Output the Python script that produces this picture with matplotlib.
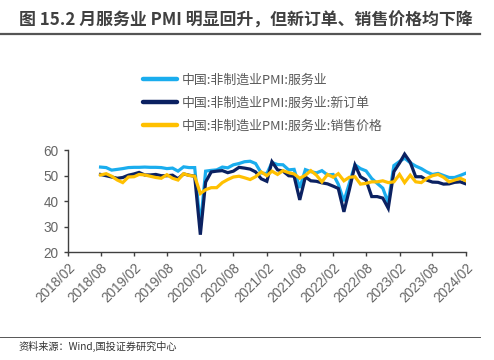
import matplotlib
matplotlib.use('Agg')
import matplotlib.pyplot as plt
import matplotlib.dates as mdates
from matplotlib.lines import Line2D
import pandas as pd

# monthly, 2018/08 - 2024/02
months = pd.date_range('2018-08-01', '2024-02-01', freq='MS')

services = [53.4, 53.2, 52.2, 52.5, 52.8,
            53.2, 53.3, 53.3, 53.4, 53.3, 53.3, 53.2, 52.8, 53.0, 51.8, 53.5, 53.2,
            53.2, 30.1, 51.8, 52.1, 52.3, 53.4, 53.1, 54.3, 54.8, 55.5, 55.7, 54.8,
            51.1, 50.8, 55.2, 54.4, 54.3, 52.3, 52.5, 45.2, 52.4, 51.6, 51.1, 52.0,
            50.3, 50.5, 46.7, 40.0, 47.1, 54.3, 52.8, 51.9, 48.9, 47.0, 45.1, 39.4,
            54.0, 55.6, 56.9, 55.1, 53.8, 52.8, 51.5, 50.5, 50.9, 50.1, 49.3, 49.3,
            50.1, 51.0]

new_orders = [50.5, 50.0, 49.5, 49.0, 49.3,
              50.2, 50.7, 51.3, 50.3, 50.3, 50.5, 50.0, 50.0, 50.2, 48.8, 50.7, 50.2,
              49.8, 26.8, 47.5, 51.5, 51.8, 52.0, 51.2, 51.8, 53.3, 53.0, 52.6, 51.5,
              48.8, 47.8, 55.5, 52.3, 51.8, 50.0, 49.8, 40.5, 49.5, 48.0, 47.8, 47.2,
              46.8, 45.9, 45.0, 35.8, 44.5, 54.2, 49.6, 48.3, 41.8, 41.8, 41.2, 37.2,
              51.6, 55.0, 58.5, 55.3, 49.6, 49.6, 48.3, 47.5, 47.4, 46.7, 46.8, 47.4,
              47.6, 46.8]

sales_price = [50.3, 50.8, 49.8, 48.3, 47.3,
               49.5, 49.6, 50.5, 50.3, 49.8, 49.3, 49.0, 50.4, 49.0, 48.3, 50.8, 50.1,
               49.8, 43.0, 44.5, 45.3, 45.3, 47.3, 48.5, 49.5, 49.8, 49.2, 48.5, 49.6,
               51.5, 50.0, 51.8, 50.5, 52.0, 51.2, 50.7, 49.0, 50.2, 52.0, 50.2, 47.6,
               50.5, 49.4, 50.8, 48.0, 49.4, 49.6, 46.7, 47.0, 47.6, 47.6, 48.0, 47.3,
               47.6, 50.5, 47.3, 50.2, 47.6, 47.3, 48.9, 50.0, 50.5, 49.4, 47.6, 48.3,
               49.0, 48.0]

labels = ['中国:非制造业PMI:服务业',
          '中国:非制造业PMI:服务业:新订单',
          '中国:非制造业PMI:服务业:销售价格']
colors = ['#1AADEE', '#0B2161', '#FFC000']

tick_dates = pd.date_range('2018-02-01', '2024-02-01', freq='6MS')

CJK = ['Noto Sans CJK SC', 'DejaVu Sans']
plt.rcParams['font.family'] = CJK

fig = plt.figure(figsize=(4.94, 3.6), dpi=100)
ax = fig.add_axes([0.137, 0.30, 0.806, 0.2825])

for vals, c, lab in zip([services, new_orders, sales_price], colors, labels):
    ax.plot(months, vals, color=c, lw=2.3, label=lab, solid_joinstyle='miter')

ax.set_xlim(tick_dates[0], tick_dates[-1])
ax.set_ylim(20, 60)
ax.set_yticks([20, 30, 40, 50, 60])
ax.set_xticks(tick_dates)
ax.xaxis.set_major_formatter(mdates.DateFormatter('%Y/%m'))

for s in ['top', 'right']:
    ax.spines[s].set_visible(False)
for s in ['left', 'bottom']:
    ax.spines[s].set_color('#404040')
    ax.spines[s].set_linewidth(1.0)
ax.tick_params(axis='both', colors='#404040', length=3, width=1.0,
               labelcolor='#666666', labelsize=9.8)
for t in ax.get_yticklabels():
    t.set_family('Liberation Sans')
for t in ax.get_xticklabels():
    t.set_family('Liberation Sans')
    t.set_rotation(45)
    t.set_ha('right')
    t.set_va('top')
    t.set_rotation_mode('anchor')

handles = [Line2D([], [], color=c, lw=3.2, solid_capstyle='round') for c in colors]
leg = fig.legend(handles, labels, loc='upper left',
                 bbox_to_anchor=(137 / 494, 1 - 67 / 360),
                 frameon=False, fontsize=9.3, handlelength=2.6,
                 handletextpad=0.4, labelspacing=0.78, borderpad=0)
for t in leg.get_texts():
    t.set_color('#595959')

# title and rules
fig.text(19 / 494, 1 - 21 / 360, '图 15.2 月服务业 PMI 明显回升，但新订单、销售价格均下降',
         fontsize=12.2, fontweight='bold', color='#404040', ha='left', va='center')
fig.add_artist(Line2D([0, 480 / 494], [1 - 34 / 360] * 2, color='#555555', lw=1.6))
fig.add_artist(Line2D([0, 480 / 494], [1 - 336.5 / 360] * 2, color='#555555', lw=0.7))
fig.text(18 / 494, 1 - 346 / 360, '资料来源：Wind,国投证券研究中心',
         fontsize=7.3, color='#333333', ha='left', va='center')

fig.savefig('out.png', dpi=100)
